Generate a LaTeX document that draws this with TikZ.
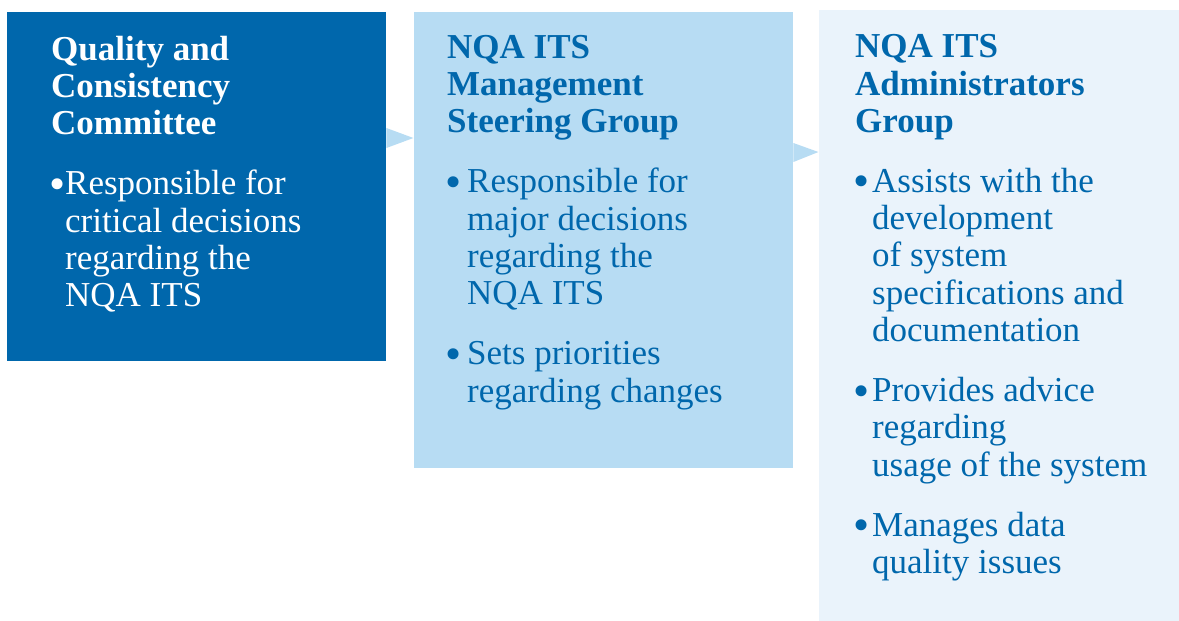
\documentclass[tikz,border=0pt]{standalone}
\usepackage{fontspec}
\setmainfont{Liberation Serif}
\usepackage{tikz}
\usetikzlibrary{calc}

\definecolor{qccblue}{HTML}{0067AC}
\definecolor{msgblue}{HTML}{B7DCF3}
\definecolor{adminblue}{HTML}{EAF3FB}
\definecolor{textblue}{HTML}{0067AC}

% text block of one box
\newenvironment{groupblock}{\begin{minipage}[t]{330pt}\fontsize{35}{37.3}\selectfont\setlength{\parskip}{22.7pt}}{\end{minipage}}
% bullet item with hanging lines
\newcommand{\bitem}[2][18pt]{\par\noindent\hangindent=#1\hangafter=1\makebox[#1][l]{\hspace{-2pt}\raisebox{-4.5pt}[0pt][0pt]{\fontsize{46}{46}\selectfont\textbullet}}\strut#2\par}

\begin{document}
\begin{tikzpicture}[x = 1pt, y = -1pt,
    groupbox/.style = {anchor = north west, inner sep = 0pt, draw = none},
    grouptext/.style = {anchor = north west, inner sep = 0pt}]

    \useasboundingbox (0,0) rectangle (1179,621);

    % the three boxes
    \node[groupbox, fill = qccblue, minimum width = 379pt, minimum height = 349pt] (qcc) at (7,12) {};
    \node[groupbox, fill = msgblue, minimum width = 379pt, minimum height = 456pt] (msg) at (414,12) {};
    \node[groupbox, fill = adminblue, minimum width = 360pt, minimum height = 611pt] (admin) at (819,10) {};

    % arrows between them
    \fill[msgblue] ([yshift = -116pt]qcc.north east) -- ([xshift = 27pt, yshift = -126pt]qcc.north east) -- ([yshift = -136pt]qcc.north east) -- cycle;
    \fill[msgblue] ([yshift = -131pt]msg.north east) -- ([xshift = 25pt, yshift = -140pt]msg.north east) -- ([yshift = -150pt]msg.north east) -- cycle;

    \node[grouptext, text = white] (qcctext) at ([xshift = 44pt, yshift = -21.9pt]qcc.north west) {%
        \begin{groupblock}
        {\bfseries\strut Quality and\\Consistency\\Committee\par}
        \bitem[14pt]{Responsible for\\critical decisions\\regarding the\\NQA ITS}
        \end{groupblock}};

    \node[grouptext, text = textblue] (msgtext) at ([xshift = 33pt, yshift = -20pt]msg.north west) {%
        \begin{groupblock}
        {\bfseries\strut NQA ITS\\Management\\Steering Group\par}
        \bitem[20pt]{Responsible for\\major decisions\\regarding the\\NQA ITS}
        \bitem[20pt]{Sets priorities\\regarding changes}
        \end{groupblock}};

    \node[grouptext, text = textblue] (admintext) at ([xshift = 36pt, yshift = -21.4pt]admin.north west) {%
        \begin{groupblock}
        {\bfseries\strut NQA ITS\\Administrators\\Group\par}
        \bitem[17pt]{Assists with the\\development\\of system\\specifications and\\documentation}
        \bitem[17pt]{Provides advice\\regarding\\usage of the system}
        \bitem[17pt]{Manages data\\quality issues}
        \end{groupblock}};
\end{tikzpicture}
\end{document}
